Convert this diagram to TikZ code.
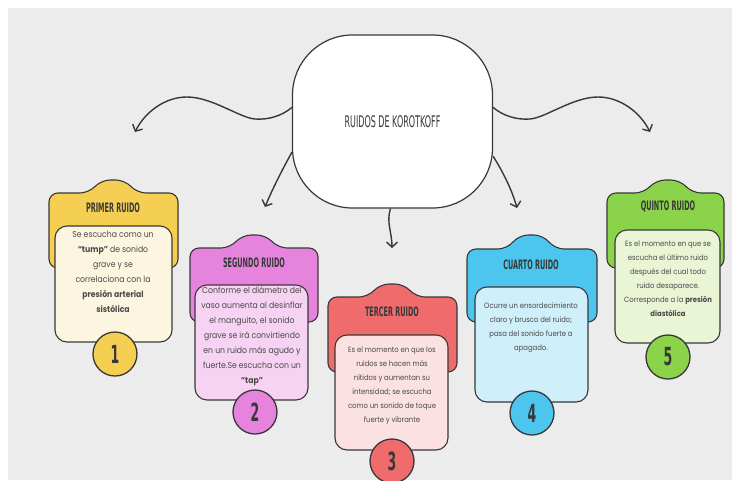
\documentclass[tikz,border=0pt]{standalone}
\usepackage{fontspec}
\setmainfont{Poppins}[FakeStretch=0.9]
\newfontfamily\rotulo[FakeStretch=0.5]{DejaVu Sans}
\usepackage{tikz}
\usetikzlibrary{arrows.meta,positioning}

\definecolor{papel}{HTML}{ECECEC}
\definecolor{trazo}{HTML}{383838}
\definecolor{tinta}{HTML}{4A4A4A}
\definecolor{amarillo}{HTML}{F5CF52}
\definecolor{amarilloC}{HTML}{FCF6E1}
\definecolor{rosa}{HTML}{E583DD}
\definecolor{rosaC}{HTML}{F6D3F2}
\definecolor{rojo}{HTML}{F06B6B}
\definecolor{rojoC}{HTML}{FBE1E1}
\definecolor{azul}{HTML}{4DC6EF}
\definecolor{azulC}{HTML}{CFEFFB}
\definecolor{verde}{HTML}{8BD34A}
\definecolor{verdeC}{HTML}{EAF5D6}

\begin{document}
\begin{tikzpicture}[
    x=1pt, y=1pt,
    hdr/.style={draw=trazo, line width=1.1pt, rounded corners=9pt},
    cuerpo/.style={rectangle, draw=trazo, line width=1.1pt, rounded corners=12pt},
    titulo/.style={font=\rotulo\bfseries\fontsize{13}{13}\selectfont, text=trazo},
    texto/.style={align=center, font=\fontsize{7.6}{14}\selectfont, text=tinta, inner sep=0pt},
    textog/.style={texto, font=\fontsize{8.6}{15}\selectfont},
    numero/.style={circle, draw=trazo, line width=1.3pt, minimum size=44pt, font=\rotulo\bfseries\fontsize{25}{25}\selectfont, text=trazo},
    flecha/.style={-{Straight Barb[length=5pt,width=11pt]}, line width=1.4pt, draw=trazo}
]
\useasboundingbox (0,0) rectangle (732,-480);
\clip (0,0) rectangle (732,-480);
\fill[white] (0,0) rectangle (732,-480);
\fill[papel] (8,-8) rectangle (732,-480);

% centro
\node[draw=trazo, line width=1.2pt, fill=white, rounded corners=60pt, minimum width=200pt, minimum height=173pt,
      font=\rotulo\fontsize{16}{16}\selectfont, text=trazo] (korotkoff) at (392.5,-121.5) {RUIDOS DE KOROTKOFF};

\coordinate (hacia1) at (135,-132);
\coordinate (hacia2) at (265,-207);
\coordinate (hacia3) at (392,-248);
\coordinate (hacia4) at (517,-208);
\coordinate (hacia5) at (650,-132);

\draw[flecha] (korotkoff.172) .. controls (282,-116) and (268,-120) .. (255,-119)
    .. controls (240,-118) and (212,-97) .. (187,-97) .. controls (165,-97) and (145,-112) .. (hacia1);
\draw[flecha] (korotkoff.8) .. controls (503,-116) and (517,-120) .. (530,-119)
    .. controls (545,-118) and (573,-97) .. (598,-97) .. controls (620,-97) and (640,-112) .. (hacia5);
\draw[flecha] (korotkoff.197) .. controls (282,-170) and (272,-190) .. (hacia2);
\draw[flecha] ([xshift=-2pt]korotkoff.south) .. controls (386,-222) and (392,-232) .. (hacia3);
\draw[flecha] (korotkoff.341) .. controls (503,-172) and (512,-190) .. (hacia4);

% primer ruido
\draw[hdr, fill=amarillo] (49,-268) -- (49,-193) -- (89,-193) -- (101,-180) -- (125,-180) -- (137,-193) -- (178,-193) -- (178,-268) -- cycle;
\node[titulo] (primer) at (113,-208) {PRIMER RUIDO};
\node[cuerpo, fill=amarilloC, minimum width=117pt, minimum height=116pt] (b1) at (113.5,-284) {};
\node[textog] (t1) at (113,-272) {Se escucha como un\\\textbf{“tump”} de sonido\\grave y se\\correlaciona con la\\\textbf{presión arterial}\\\textbf{sistólica}};
\node[numero, fill=amarillo] (n1) at (115,-354) {1};

% segundo ruido
\draw[hdr, fill=rosa] (190,-322) -- (190,-248) -- (230,-248) -- (242,-235) -- (266,-235) -- (278,-248) -- (318,-248) -- (318,-322) -- cycle;
\node[titulo] (segundo) at (254,-263) {SEGUNDO RUIDO};
\node[cuerpo, fill=rosaC, minimum width=113pt, minimum height=115pt] (b2) at (251.5,-342.5) {};
\node[textog] (t2) at (252,-336) {Conforme el diámetro del\\vaso aumenta al desinflar\\el manguito, el sonido\\grave se irá convirtiendo\\en un ruido más agudo y\\fuerte.Se escucha con un\\\textbf{“tap”}};
\node[numero, fill=rosa] (n2) at (255,-412) {2};

% tercer ruido
\draw[hdr, fill=rojo] (328,-372) -- (328,-297) -- (368,-297) -- (380,-284) -- (404,-284) -- (416,-297) -- (457,-297) -- (457,-372) -- cycle;
\node[titulo] (tercer) at (392,-312) {TERCER RUIDO};
\node[cuerpo, fill=rojoC, minimum width=113pt, minimum height=115pt] (b3) at (391.5,-392.5) {};
\node[texto] (t3) at (392,-386) {Es el momento en que los\\ruidos se hacen más\\nítidos y aumentan su\\intensidad; se escucha\\como un sonido de toque\\fuerte y vibrante};
\node[numero, fill=rojo] (n3) at (392,-461) {3};

% cuarto ruido
\draw[hdr, fill=azul] (467,-322) -- (467,-249) -- (507,-249) -- (519,-235) -- (543,-235) -- (555,-249) -- (597,-249) -- (597,-322) -- cycle;
\node[titulo] (cuarto) at (531,-265) {CUARTO RUIDO};
\node[cuerpo, fill=azulC, minimum width=113pt, minimum height=115pt] (b4) at (531.5,-344.5) {};
\node[texto] (t4) at (531,-328) {Ocurre un ensordecimiento\\claro y brusco del ruido;\\pasa del sonido fuerte a\\apagado.};
\node[numero, fill=azul] (n4) at (532,-413) {4};

% quinto ruido
\draw[hdr, fill=verde] (607,-268) -- (607,-193) -- (644,-193) -- (656,-180) -- (680,-180) -- (692,-193) -- (724,-193) -- (724,-268) -- cycle;
\node[titulo] (quinto) at (668,-207) {QUINTO RUIDO};
\node[cuerpo, fill=verdeC, minimum width=105pt, minimum height=113pt] (b5) at (667.5,-286.5) {};
\node[texto] (t5) at (668,-279) {Es el momento en que se\\escucha el último ruido\\después del cual todo\\ruido desaparece.\\Corresponde a la \textbf{presión}\\\textbf{diastólica}};
\node[numero, fill=verde] (n5) at (668,-357) {5};
\end{tikzpicture}
\end{document}
